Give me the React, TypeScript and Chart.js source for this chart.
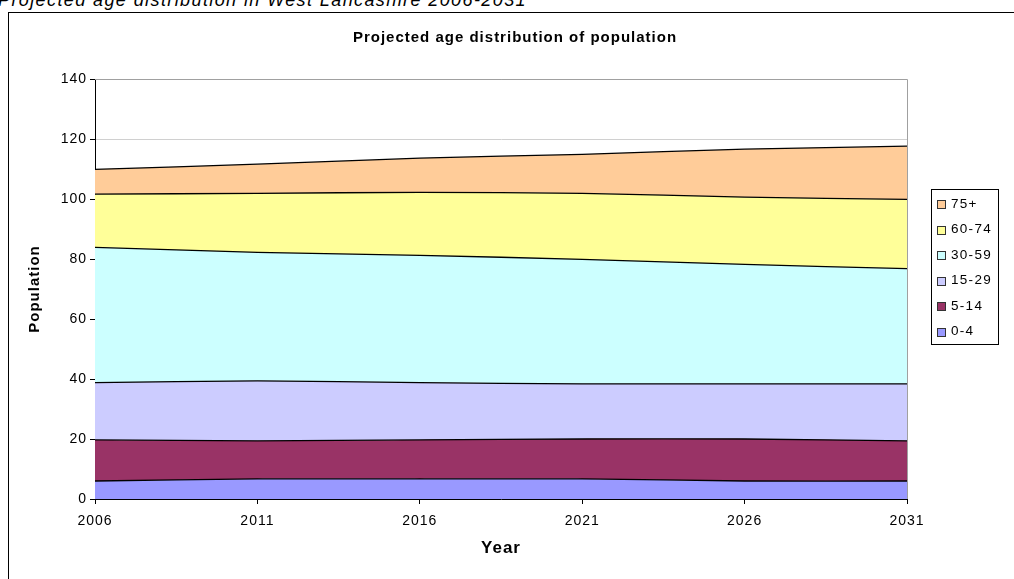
import React, { useEffect, useRef } from "react";
import { Chart, registerables } from "chart.js";

Chart.register(...registerables);

const years = ["2006", "2011", "2016", "2021", "2026", "2031"];
const age0to4 = [6.0, 6.7, 6.7, 6.7, 6.0, 6.0];
const age5to14 = [13.7, 12.7, 13.0, 13.3, 14.0, 13.4];
const age15to29 = [19.1, 20.0, 19.1, 18.4, 18.4, 19.0];
const age30to59 = [45.1, 42.8, 42.4, 41.5, 39.8, 38.4];
const age60to74 = [17.7, 19.7, 21.0, 22.0, 22.4, 23.1];
const age75plus = [8.3, 9.7, 11.4, 13.0, 16.0, 17.7];

const seriesLabels = ["0-4", "5-14", "15-29", "30-59", "60-74", "75+"];
const seriesColors = ["#9999FF", "#993366", "#CCCCFF", "#CCFFFF", "#FFFF99", "#FFCC99"];
const seriesData = [age0to4, age5to14, age15to29, age30to59, age60to74, age75plus];

const chartTitle = "Projected age distribution of population";
const caption = "Projected age distribution in West Lancashire 2006-2031";
const FONT = "'Liberation Sans', Arial, sans-serif";

const spacing = {
  id: "spacing",
  beforeDraw(chart: any) {
    chart.ctx.letterSpacing = "1px";
  },
};

const plotBorder = {
  id: "plotBorder",
  afterDatasetsDraw(chart: any) {
    const { ctx, chartArea } = chart;
    ctx.save();
    ctx.strokeStyle = "#A0A0A0";
    ctx.lineWidth = 1;
    ctx.beginPath();
    ctx.moveTo(chartArea.left, Math.round(chartArea.top) + 0.5);
    ctx.lineTo(Math.round(chartArea.right) + 0.5, Math.round(chartArea.top) + 0.5);
    ctx.lineTo(Math.round(chartArea.right) + 0.5, chartArea.bottom);
    ctx.stroke();
    ctx.restore();
  },
};

const boxLegend = {
  id: "boxLegend",
  afterDraw(chart: any) {
    const { ctx } = chart;
    const x0 = 923.5, y0 = 177.5, w = 67, h = 155;
    ctx.save();
    ctx.letterSpacing = "1.3px";
    ctx.strokeStyle = "#000";
    ctx.lineWidth = 1;
    ctx.strokeRect(x0, y0, w, h);
    ctx.font = `13.5px ${FONT}`;
    ctx.textBaseline = "middle";
    ctx.fillStyle = "#000";
    const n = seriesLabels.length;
    for (let k = 0; k < n; k++) {
      const i = n - 1 - k;
      const cy = 192 + k * 25.5;
      ctx.fillStyle = seriesColors[i];
      ctx.fillRect(929, Math.round(cy - 4), 8, 8);
      ctx.strokeStyle = "#333";
      ctx.strokeRect(929.5, Math.round(cy - 4) + 0.5, 8, 8);
      ctx.fillStyle = "#000";
      ctx.fillText(seriesLabels[i], 943, cy);
    }
    ctx.restore();
  },
};

function AgeChart() {
  const ref = useRef<HTMLCanvasElement>(null);
  useEffect(() => {
    if (!ref.current) return;
    const chart = new Chart(ref.current, {
      type: "line",
      data: {
        labels: years,
        datasets: seriesData.map((d, i) => ({
          label: seriesLabels[i],
          data: d,
          backgroundColor: seriesColors[i],
          borderColor: "#000",
          borderWidth: 1.3,
          pointRadius: 0,
          pointHoverRadius: 0,
          tension: 0.25,
          fill: i === 0 ? "origin" : "-1",
        })),
      },
      options: {
        animation: false,
        responsive: false,
        events: [],
        layout: { padding: 0 },
        plugins: {
          legend: { display: false },
          tooltip: { enabled: false },
          title: {
            display: true,
            text: chartTitle,
            color: "#000",
            font: { family: FONT, size: 15, weight: "bold" },
            padding: { top: 16.5, bottom: 32.5 },
          },
        },
        scales: {
          x: {
            type: "category",
            offset: false,
            afterFit: (s: any) => { s.height = 80; },
            grid: { drawOnChartArea: false, drawTicks: true, tickLength: 5, color: "#000" },
            border: { color: "#000", width: 1 },
            ticks: { color: "#000", font: { family: FONT, size: 14 }, padding: 9, maxRotation: 0, autoSkip: false },
            title: {
              display: true,
              text: "Year",
              color: "#000",
              font: { family: FONT, size: 17, weight: "bold" },
              padding: { top: 0, bottom: 20 },
            },
          },
          y: {
            stacked: true,
            min: 0,
            max: 140,
            afterFit: (s: any) => { s.width = 87; },
            grid: {
              color: (c: any) => (c.tick && c.tick.value === 140 ? "#A0A0A0" : "#D0D0D0"),
              tickLength: 5,
              tickColor: "#000",
            },
            border: { color: "#000", width: 1 },
            ticks: { stepSize: 20, color: "#000", font: { family: FONT, size: 14 }, padding: 3 },
            title: {
              display: true,
              text: "Population",
              color: "#000",
              font: { family: FONT, size: 15, weight: "bold" },
              padding: { top: 17.5, bottom: 0 },
            },
          },
          side: {
            type: "linear",
            position: "right",
            display: true,
            afterFit: (s: any) => { s.width = 115; },
            grid: { display: false },
            ticks: { display: false },
            border: { display: false },
          },
        },
      },
      plugins: [spacing, plotBorder, boxLegend],
    });
    return () => chart.destroy();
  }, []);
  return (
    <canvas
      ref={ref}
      width={1014}
      height={567}
      style={{ position: "absolute", left: 8, top: 12, width: 1014, height: 567, display: "block" }}
    />
  );
}

export default function App() {
  return (
    <div style={{ position: "fixed", left: 0, top: 0, width: 1014, height: 579, overflow: "hidden", background: "#fff" }}>
      <div
        style={{
          position: "absolute",
          left: -2,
          top: -9,
          fontFamily: FONT,
          fontStyle: "italic",
          fontSize: 18,
          letterSpacing: "1.4px",
          lineHeight: "18px",
          whiteSpace: "nowrap",
          color: "#000",
        }}
      >
        {caption}
      </div>
      <AgeChart />
      <div
        style={{
          position: "absolute",
          left: 8,
          top: 12,
          width: 1020,
          height: 600,
          borderLeft: "1px solid #000",
          borderTop: "1px solid #000",
          boxSizing: "border-box",
          pointerEvents: "none",
        }}
      />
    </div>
  );
}
